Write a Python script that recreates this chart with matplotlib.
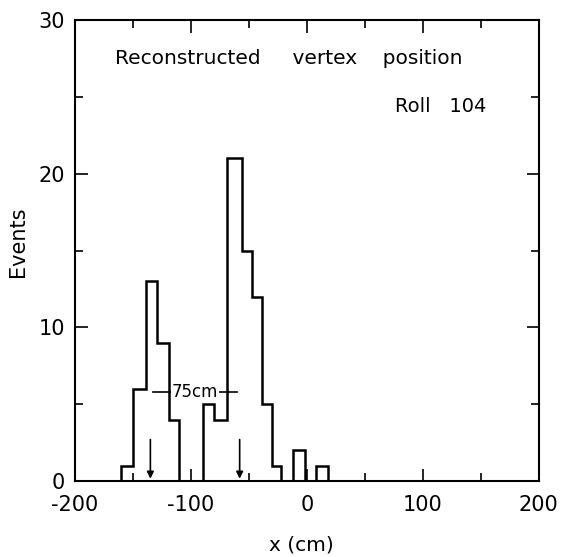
import numpy as np
import matplotlib
matplotlib.use("Agg")
from matplotlib import pyplot as plt
from matplotlib.ticker import MultipleLocator

# vertex x positions (cm): bin edges and event counts per bin
bin_edges = [-160, -150, -139, -129, -119, -110, -90, -80, -69, -56,
             -47, -39, -30, -22, -12, -2, 8, 18]
counts = [1, 6, 13, 9, 4, 0, 5, 4, 21, 15, 12, 5, 1, 0, 2, 0, 1]

# mean vertex position of each target block, and their separation
arrow_x = [-135, -58]
arrow_top = 2.7
sep_y = 5.8
sep_label = "75cm"

plt.rcParams['font.family'] = ['DejaVu Sans']
plt.rcParams['axes.unicode_minus'] = False
fig = plt.figure(figsize=(5.66, 5.57), dpi=100)
ax = fig.add_axes([0.1325, 0.1364, 0.952 - 0.1325, 0.964 - 0.1364])

ax.stairs(counts, bin_edges, color='black', linewidth=1.8, baseline=0)

for xa in arrow_x:
    ax.annotate('', xy=(xa, 0.15), xytext=(xa, arrow_top),
                arrowprops=dict(arrowstyle='-|>', color='black', lw=1.2,
                                mutation_scale=10, shrinkA=0, shrinkB=0))

# separation bar between the two peaks
ax.plot([arrow_x[0] + 2, arrow_x[1] - 2], [sep_y, sep_y], color='black', lw=1.2)
ax.text(np.mean(arrow_x), sep_y, sep_label, ha='center', va='center',
        fontsize=12, bbox=dict(facecolor='white', edgecolor='none', pad=0.5))

ax.text(-165.5, 27.5, "Reconstructed     vertex    position", fontsize=14.5,
        ha='left', va='center')
ax.text(76, 24.4, "Roll   104", fontsize=14, ha='left', va='center')

ax.set_xlim(-200, 200)
ax.set_ylim(0, 30)
ax.xaxis.set_major_locator(MultipleLocator(100))
ax.xaxis.set_minor_locator(MultipleLocator(50))
ax.yaxis.set_major_locator(MultipleLocator(10))
ax.yaxis.set_minor_locator(MultipleLocator(5))
ax.tick_params(which='both', direction='in', top=True, right=True,
               width=1.2, labelsize=15)
ax.tick_params(which='major', length=9)
ax.tick_params(which='minor', length=6)
ax.tick_params(axis='x', pad=10)
ax.tick_params(axis='y', pad=7)
for s in ax.spines.values():
    s.set_linewidth(1.5)

ax.set_xlabel("x (cm)", fontsize=14.5)
ax.set_ylabel("Events", fontsize=15)
ax.xaxis.set_label_coords(0.4886, -0.118)
ax.yaxis.set_label_coords(-0.101, 0.52)

fig.savefig("out.png", dpi=100)
